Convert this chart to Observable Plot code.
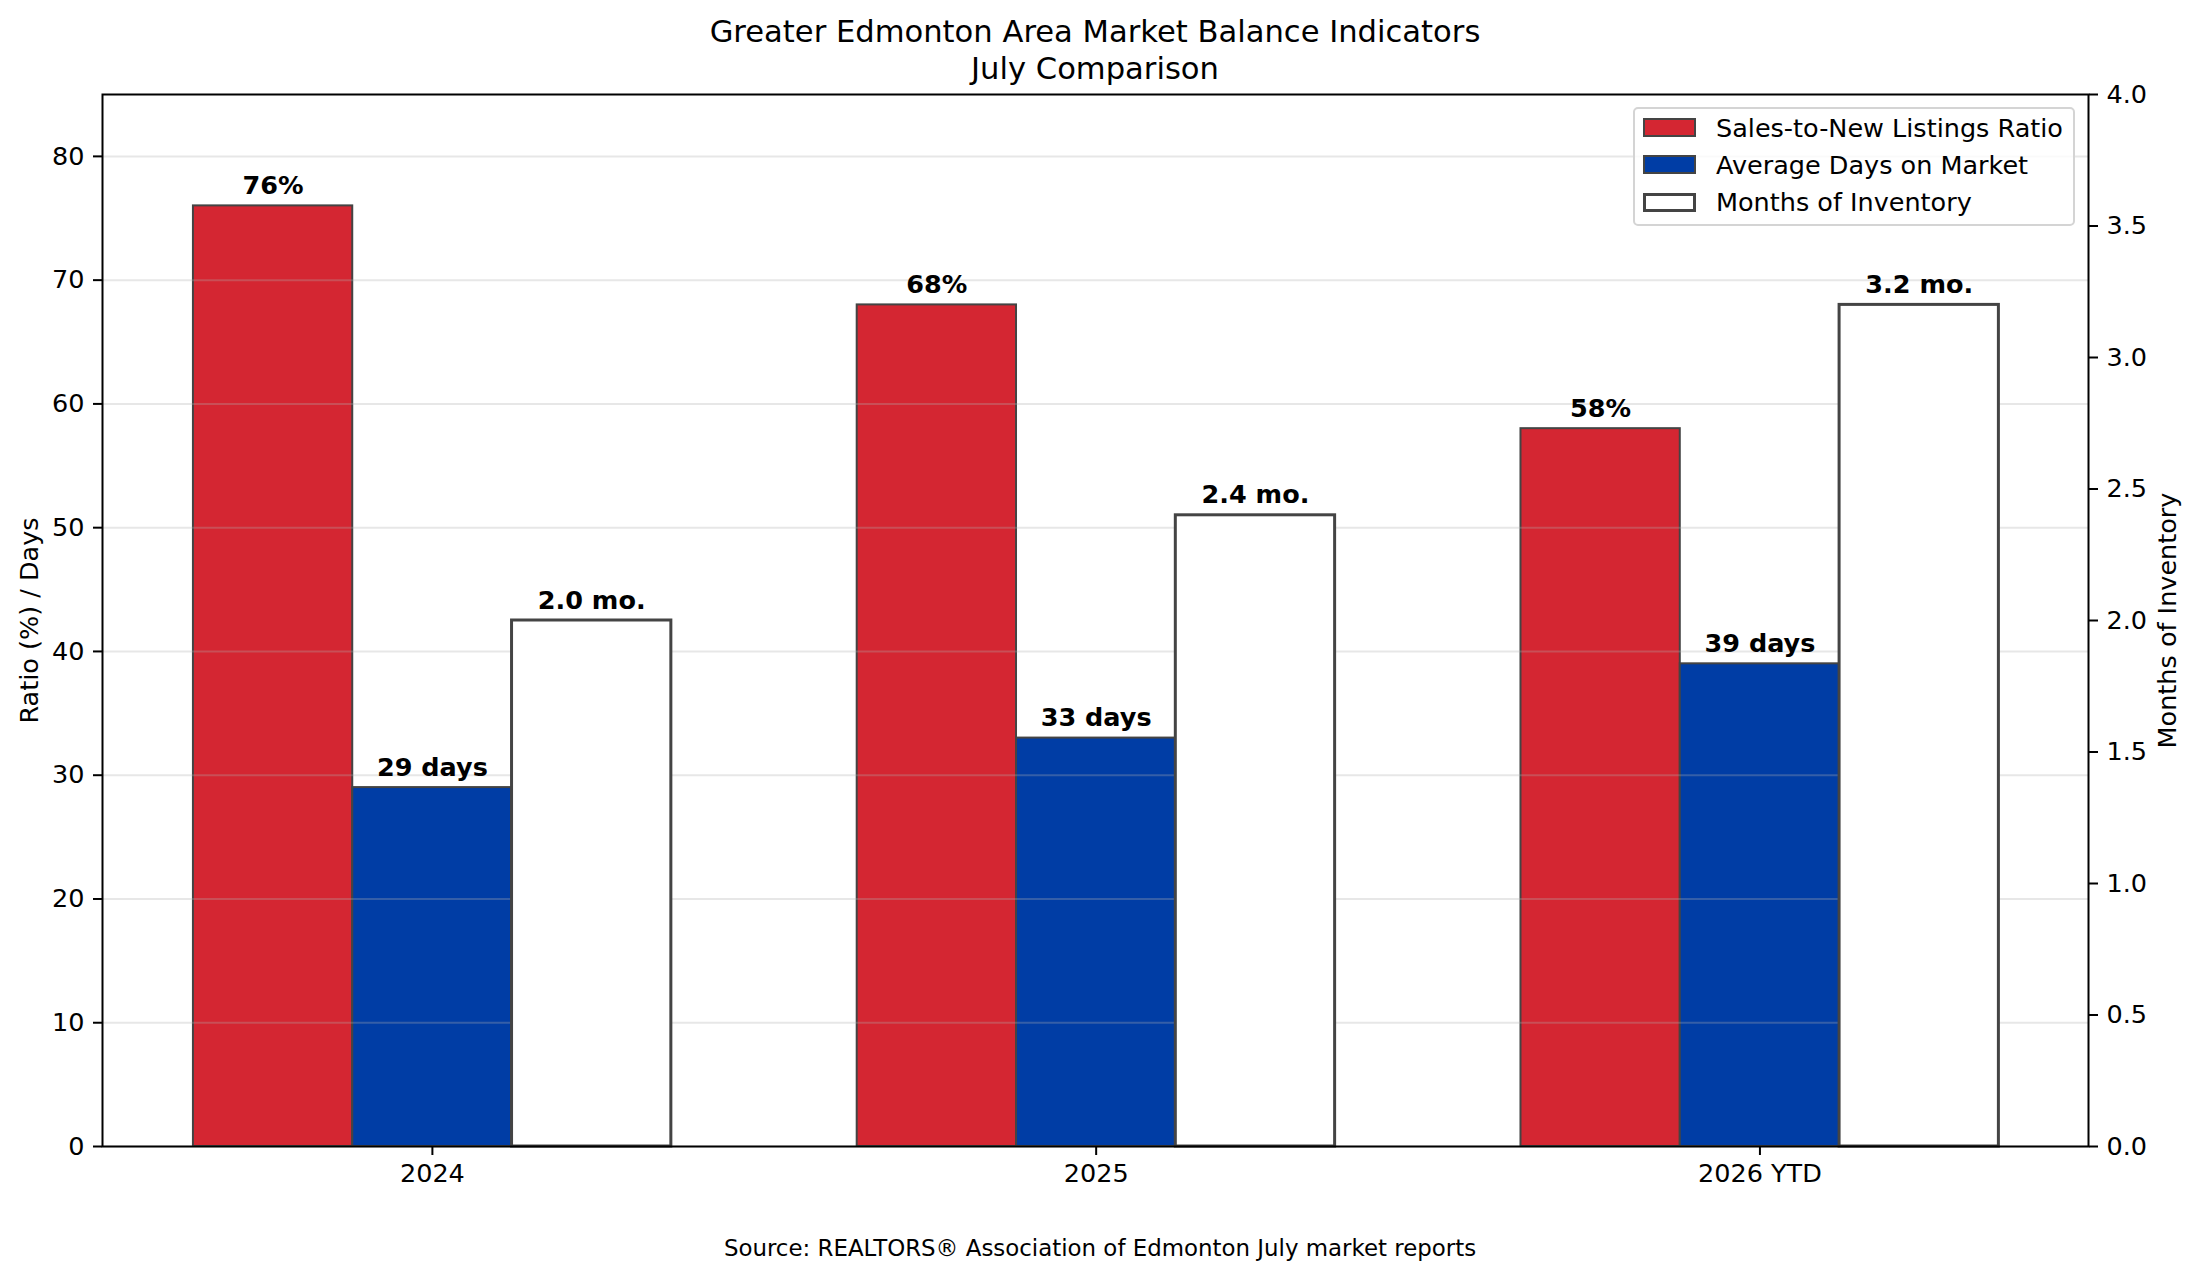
<!DOCTYPE html>
<html>
<head>
<meta charset="utf-8">
<script src="https://cdn.jsdelivr.net/npm/d3@7"></script>
<script src="https://cdn.jsdelivr.net/npm/@observablehq/plot@0.6"></script>
<style>
  html, body { margin: 0; padding: 0; background: #fff; }
  #fig { position: relative; width: 2200px; height: 1280px; font-family: "DejaVu Sans", sans-serif; color: #000; overflow: hidden; }
  #fig svg { position: absolute; left: 0; top: 0; }
  .title { position: absolute; left: 0; width: 2190px; text-align: center; font-size: 30.6px; line-height: 30.6px; white-space: nowrap; }
  .source { position: absolute; left: 0; width: 2200px; text-align: center; font-size: 22.9px; line-height: 22.9px; white-space: nowrap; }
  #legend { position: absolute; left: 1633px; top: 107px; width: 438px; height: 115px; border: 2px solid #d4d4d4; border-radius: 5px; background: rgba(255,255,255,0.8); box-sizing: content-box; }
  .row { position: absolute; left: 0; height: 37px; display: flex; align-items: center; font-size: 25.5px; white-space: nowrap; }
  .sw { box-sizing: border-box; width: 53px; height: 19px; margin-left: 8px; margin-right: 20px; }
</style>
</head>
<body>
<div id="fig"></div>
<script>
// ---- data ----
const categories = ["2024", "2025", "2026 YTD"];
const seriesNames = ["Sales-to-New Listings Ratio", "Average Days on Market", "Months of Inventory"];
const salesToNewListings = [76, 68, 58];      // %
const avgDaysOnMarket = [29, 33, 39];         // days
const monthsOfInventory = [2.0, 2.4, 3.2];    // months
const leftTicks = [0, 10, 20, 30, 40, 50, 60, 70, 80];
const rightTicks = [0, 0.5, 1.0, 1.5, 2.0, 2.5, 3.0, 3.5, 4.0];
const titleLines = ["Greater Edmonton Area Market Balance Indicators", "July Comparison"];
const yLabel = "Ratio (%) / Days";
const y2Label = "Months of Inventory";
const sourceText = "Source: REALTORS® Association of Edmonton July market reports";

// ---- styling ----
const fills = ["#d42632", "#003da5", "#ffffff"];
const edge = "#444444";
const edgeWidths = [2, 2, 3];
const yMax = 85, y2Max = 4;
const toLeft = m => m * yMax / y2Max;
const barW = 0.24;

const rows = [];
categories.forEach((c, i) => {
  rows.push({i, k: 0, v: salesToNewListings[i], label: `${salesToNewListings[i]}%`});
  rows.push({i, k: 1, v: avgDaysOnMarket[i], label: `${avgDaysOnMarket[i]} days`});
  rows.push({i, k: 2, v: toLeft(monthsOfInventory[i]), label: `${monthsOfInventory[i].toFixed(1)} mo.`});
});
const x1 = d => d.i + (d.k - 1) * barW - barW / 2;
const x2 = d => d.i + (d.k - 1) * barW + barW / 2;
const xc = d => d.i + (d.k - 1) * barW;
const primary = rows.filter(d => d.k < 2);
const secondary = rows.filter(d => d.k === 2);

const fs = 25.5;
const chart = Plot.plot({
  width: 2200,
  height: 1280,
  marginLeft: 102,
  marginRight: 112,
  marginTop: 94,
  marginBottom: 134,
  style: {fontFamily: "DejaVu Sans", color: "#000", background: "transparent"},
  x: {type: "linear", domain: [-0.497, 2.495]},
  y: {type: "linear", domain: [0, yMax]},
  marks: [
    Plot.rectY(primary, {x1, x2, y1: 0, y2: "v", fill: d => fills[d.k], stroke: edge, strokeWidth: d => edgeWidths[d.k]}),
    Plot.gridY(leftTicks, {stroke: "#b0b0b0", strokeOpacity: 0.3, strokeWidth: 2}),
    Plot.rectY(secondary, {x1, x2, y1: 0, y2: "v", fill: d => fills[d.k], stroke: edge, strokeWidth: d => edgeWidths[d.k]}),
    Plot.text(rows, {x: xc, y: "v", text: "label", lineAnchor: "bottom", dy: -12, fontSize: fs, fontWeight: "bold", fill: "#000"}),
    Plot.frame({stroke: "#000", strokeWidth: 2}),
    Plot.axisX([0, 1, 2], {tickFormat: i => categories[i], tickSize: 9, tickPadding: 8, fontSize: fs, strokeWidth: 2, label: null}),
    Plot.axisY(leftTicks, {anchor: "left", tickSize: 9, tickPadding: 9, fontSize: fs, strokeWidth: 2, label: null}),
    Plot.axisY(rightTicks.map(toLeft), {anchor: "right", tickFormat: d => (d * y2Max / yMax).toFixed(1), tickSize: 9, tickPadding: 9, fontSize: fs, strokeWidth: 2, label: null}),
    Plot.text([yLabel], {frameAnchor: "left", textAnchor: "middle", rotate: -90, dx: -73, fontSize: fs, fill: "#000"}),
    Plot.text([y2Label], {frameAnchor: "right", textAnchor: "middle", rotate: -90, dx: 79, fontSize: fs, fill: "#000"})
  ]
});

const fig = document.getElementById("fig");
fig.appendChild(chart);

// title
const tops = [17.4, 53.6];
titleLines.forEach((t, j) => {
  const d = document.createElement("div");
  d.className = "title";
  d.style.top = tops[j] + "px";
  d.textContent = t;
  fig.appendChild(d);
});

// source
const s = document.createElement("div");
s.className = "source";
s.style.top = "1236.6px";
s.textContent = sourceText;
fig.appendChild(s);

// legend
const lg = document.createElement("div");
lg.id = "legend";
seriesNames.forEach((name, k) => {
  const r = document.createElement("div");
  r.className = "row";
  r.style.top = (0.2 + k * 37.2) + "px";
  const sw = document.createElement("div");
  sw.className = "sw";
  sw.style.background = fills[k];
  sw.style.border = `${edgeWidths[k]}px solid ${edge}`;
  const tx = document.createElement("span");
  tx.textContent = name;
  r.appendChild(sw);
  r.appendChild(tx);
  lg.appendChild(r);
});
fig.appendChild(lg);
</script>
</body>
</html>
